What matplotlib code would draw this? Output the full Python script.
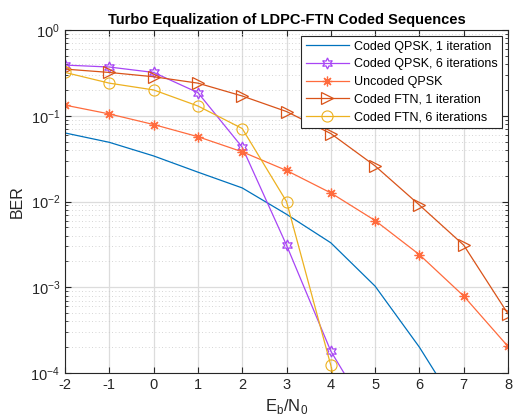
import numpy as np
import matplotlib
matplotlib.use('Agg')
import matplotlib.pyplot as plt
from matplotlib.ticker import LogLocator, NullFormatter

plt.rcParams['font.family'] = ['Liberation Sans', 'DejaVu Sans']
plt.rcParams['axes.unicode_minus'] = False
plt.rcParams['mathtext.fontset'] = 'custom'
plt.rcParams['mathtext.rm'] = 'Liberation Sans'

# Eb/N0 in dB
ebn0 = [-2, -1, 0, 1, 2, 3, 4, 5, 6, 7, 8]
ebn0_short = [-2, -1, 0, 1, 2, 3, 4, 5]

# BER-Werte
ber_qpsk_1 = [0.063, 0.049, 0.034, 0.022, 0.0144, 0.0071, 0.0033, 0.00103, 0.0002, 0.00003, 0.000005]
ber_qpsk_6 = [0.39, 0.37, 0.32, 0.186, 0.043, 0.0031, 0.00018, 0.000025]
ber_uncoded = [0.133, 0.105, 0.079, 0.057, 0.038, 0.023, 0.0126, 0.0060, 0.0024, 0.00079, 0.000204]
ber_ftn_1 = [0.35, 0.32, 0.285, 0.24, 0.17, 0.112, 0.062, 0.026, 0.0091, 0.0031, 0.00049]
ber_ftn_6 = [0.32, 0.24, 0.20, 0.13, 0.071, 0.0100, 0.000123, 0.0000005]

labels = ['Coded QPSK, 1 iteration', 'Coded QPSK, 6 iterations', 'Uncoded QPSK',
          'Coded FTN, 1 iteration', 'Coded FTN, 6 iterations']
colors = ['#0072BD', '#A845F5', '#FF6B3D', '#D95319', '#EDB120']

fig = plt.figure(figsize=(5.13, 4.2), dpi=100)
ax = fig.add_axes([65 / 513, 1 - 373 / 420, 443 / 513, 343 / 420])

lw = 0.9
ax.semilogy(ebn0, ber_qpsk_1, color=colors[0], lw=lw, label=labels[0])
ax.semilogy(ebn0_short, ber_qpsk_6, color=colors[1], lw=lw, marker=(6, 1, 0), ms=8,
            mfc='none', mew=0.9, label=labels[1])
ax.semilogy(ebn0, ber_uncoded, color=colors[2], lw=lw, marker=(8, 2, 0), ms=7,
            mew=0.9, label=labels[2])
ax.semilogy(ebn0, ber_ftn_1, color=colors[3], lw=lw, marker='>', ms=9,
            mfc='none', mew=0.9, label=labels[3])
ax.semilogy(ebn0_short, ber_ftn_6, color=colors[4], lw=lw, marker='o', ms=8,
            mfc='none', mew=0.8, label=labels[4])

ax.set_xlim(-2, 8)
ax.set_ylim(1e-4, 1)
ax.set_xticks(range(-2, 9))
ax.yaxis.set_major_locator(LogLocator(base=10, numticks=10))
ax.yaxis.set_minor_locator(LogLocator(base=10, subs=np.arange(2, 10), numticks=50))
ax.yaxis.set_minor_formatter(NullFormatter())

ax.grid(True, which='major', color='#DCDCDC', lw=0.9)
ax.grid(True, which='minor', axis='y', color='#C8C8C8', lw=0.6, ls=(0, (1, 3)))
ax.set_axisbelow(True)

ax.tick_params(which='both', direction='in', top=True, right=True, labelsize=10.5, colors='#262626')
ax.tick_params(which='major', length=4)
ax.tick_params(which='minor', length=2)
for s in ax.spines.values():
    s.set_color('#262626')
    s.set_linewidth(0.8)

ax.set_xlabel(r'E$_\mathrm{b}$/N$_\mathrm{0}$', fontsize=12, color='#262626')
ax.set_ylabel('BER', fontsize=11.5, color='#262626')
ax.set_title('Turbo Equalization of LDPC-FTN Coded Sequences', fontsize=10.5, fontweight='bold', pad=4)

leg = ax.legend(loc='upper right', fontsize=9, fancybox=False, framealpha=1,
                edgecolor='#262626', borderaxespad=0.45, handlelength=3.4,
                handletextpad=0.4, labelspacing=0.45, borderpad=0.4)
leg.get_frame().set_linewidth(0.8)

fig.savefig('out.png', dpi=100)
